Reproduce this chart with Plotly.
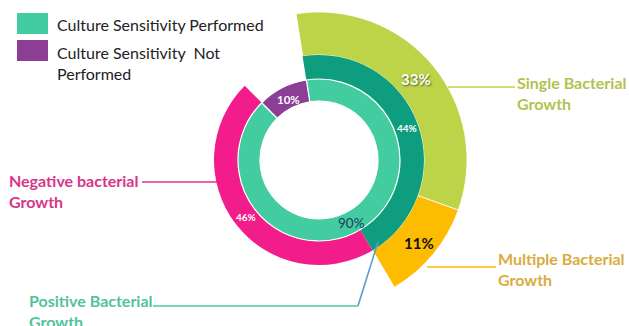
import math
import plotly.graph_objects as go

# ---------------- data ----------------
inner_labels = ["Culture Sensitivity Performed", "Culture Sensitivity  Not Performed"]
inner_values = [90, 10]
inner_text = ["90%", "10%"]

middle_labels = ["Positive Bacterial Growth", "Negative bacterial Growth", ""]
middle_values = [44, 46, 10]
middle_text = ["44%", "46%", ""]

outer_labels = ["Single Bacterial Growth", "Multiple Bacterial Growth", ""]
outer_values = [33, 11, 56]
outer_text = ["33%", "11%", ""]

# ---------------- style ----------------
W, H = 629, 326
CX, CY = 319, 160          # ring centre in pixels
R_HOLE, R_IN, R_MID, R_OUT = 59, 81, 105, 148
ROT = -9
FONT = "Lato"

C_TEAL = "#43CC9F"
C_PURPLE = "#8C3D96"
C_DTEAL = "#0F9D7F"
C_PINK = "#F21C8A"
C_GREEN = "#BDD448"
C_YELLOW = "#FDBC00"
NONE = "rgba(0,0,0,0)"


def dom(r):
    return dict(x=[(CX - r) / W, (CX + r) / W],
                y=[1 - (CY + r) / H, 1 - (CY - r) / H])


def px(x):
    return x / W


def py(y):
    return 1 - y / H


common = dict(sort=False, direction="clockwise", rotation=ROT,
              textinfo="none", showlegend=False, hoverinfo="label+percent")

fig = go.Figure()
fig.add_trace(go.Pie(
    labels=outer_labels, values=outer_values,
    hole=R_MID / R_OUT, domain=dom(R_OUT),
    marker=dict(colors=[C_GREEN, C_YELLOW, NONE], line=dict(color="white", width=0.8)),
    **common))
fig.add_trace(go.Pie(
    labels=middle_labels, values=middle_values,
    hole=R_IN / R_MID, domain=dom(R_MID),
    marker=dict(colors=[C_DTEAL, C_PINK, NONE], line=dict(color="white", width=0)),
    **common))
fig.add_trace(go.Pie(
    labels=inner_labels, values=inner_values,
    hole=R_HOLE / R_IN, domain=dom(R_IN),
    marker=dict(colors=[C_TEAL, C_PURPLE], line=dict(color="white", width=1.2)),
    **common))

ann = []


def slice_labels(values, texts, r_in, r_out, fonts, rshift=None):
    total = float(sum(values))
    cum = 0.0
    for i, (v, t) in enumerate(zip(values, texts)):
        mid = ROT + 360.0 * (cum + v / 2.0) / total
        cum += v
        if not t:
            continue
        r = (r_in + r_out) / 2.0 + (rshift[i] if rshift else 0)
        a = math.radians(mid)
        x = CX + r * math.sin(a)
        y = CY - r * math.cos(a)
        ann.append(dict(xref="paper", yref="paper", x=px(x), y=py(y),
                        xanchor="center", yanchor="middle", showarrow=False,
                        text=t, font=fonts[i]))


slice_labels(outer_values, outer_text, R_MID, R_OUT,
             [dict(family=FONT, size=15, color="white", weight="bold",
                   shadow="1px 1px 2px rgba(0,0,0,0.55)"),
              dict(family=FONT, size=15, color="#111111", weight="bold")],
             rshift=[0, 3])
slice_labels(middle_values, middle_text, R_IN, R_MID,
             [dict(family=FONT, size=10, color="white", weight="bold"),
              dict(family=FONT, size=10, color="white", weight="bold")])
slice_labels(inner_values, inner_text, R_HOLE, R_IN,
             [dict(family=FONT, size=13.5, color="#1D3D5C"),
              dict(family=FONT, size=11.5, color="white", weight="bold")],
             rshift=[1, -2])

shapes = []
# legend swatches
for y0, col in [(13, C_TEAL), (40, C_PURPLE)]:
    shapes.append(dict(type="rect", xref="paper", yref="paper",
                       x0=px(17), x1=px(48), y0=py(y0 + 21), y1=py(y0),
                       fillcolor=col, line=dict(width=0)))
# leader lines
lines = [
    ((448, 87), (515, 87), C_GREEN),
    ((427, 267), (496, 267), C_YELLOW),
    ((142, 182), (217, 182), "#E0308A"),
    ((153, 306), (358, 306), "#4CC9A4"),
    ((358, 306), (378, 242), "#5B9BD5"),
]
for (x0, y0), (x1, y1), col in lines:
    shapes.append(dict(type="line", xref="paper", yref="paper",
                       x0=px(x0), y0=py(y0), x1=px(x1), y1=py(y1),
                       line=dict(color=col, width=1.6)))


def label(x, y, text, color, size=16, weight="normal"):
    ann.append(dict(xref="paper", yref="paper", x=px(x), y=py(y), xanchor="left",
                    yanchor="middle", align="left", showarrow=False, text=text,
                    font=dict(family=FONT, size=size, color=color, weight=weight)))


label(55, 24, "Culture Sensitivity Performed", "#222222")
label(55, 62.5, "Culture Sensitivity  Not<br>Performed", "#222222")
label(515, 93, "Single Bacterial<br>Growth", "#B3C24F", 16, "bold")
label(496, 268.5, "Multiple Bacterial<br>Growth", "#D9AC3C", 16, "bold")
label(7, 190.5, "Negative bacterial<br>Growth", "#D8358A", 16, "bold")
label(27, 310.5, "Positive Bacterial<br>Growth", "#52C29C", 16, "bold")

fig.update_layout(width=W, height=H, margin=dict(l=0, r=0, t=0, b=0),
                  paper_bgcolor="white", plot_bgcolor="white",
                  shapes=shapes, annotations=ann, font=dict(family=FONT))
fig.write_html("out.html", config={"displayModeBar": False},
               post_script="document.body.style.margin='0';document.body.style.overflow='hidden';")
